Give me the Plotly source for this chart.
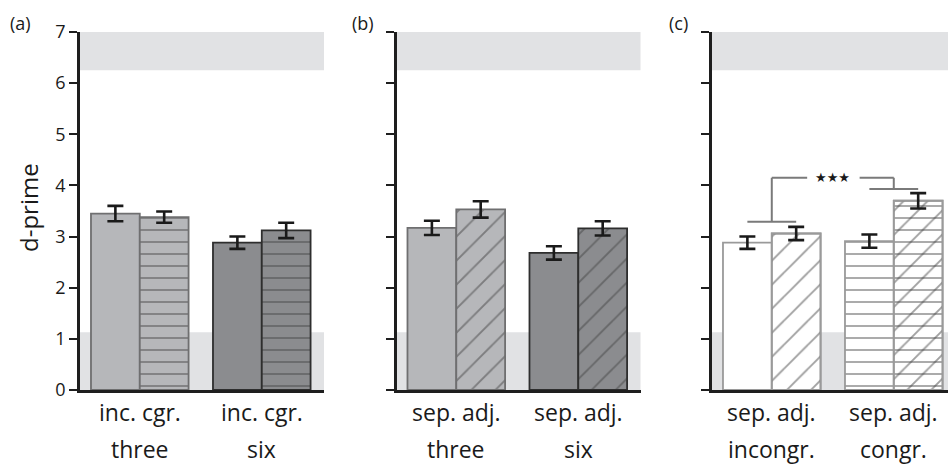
import plotly.graph_objects as go

# ---------------- data ----------------
groups = [0, 1]
labels_a = [["inc. cgr.", "three"], ["inc. cgr.", "six"]]
labels_b = [["sep. adj.", "three"], ["sep. adj.", "six"]]
labels_c = [["sep. adj.", "incongr."], ["sep. adj.", "congr."]]

a_left = [3.45, 2.88]
a_left_err = [0.15, 0.12]
a_right = [3.38, 3.12]
a_right_err = [0.11, 0.15]

b_left = [3.17, 2.68]
b_left_err = [0.14, 0.13]
b_right = [3.53, 3.16]
b_right_err = [0.16, 0.14]

c_left = [2.88, 2.91]
c_left_err = [0.12, 0.13]
c_right = [3.06, 3.70]
c_right_err = [0.13, 0.15]

y_ticks = [0, 1, 2, 3, 4, 5, 6, 7]
band_low = [0, 1.13]
band_high = [6.25, 7]

# ---------------- style ----------------
FONT = "Open Sans"
TXT = "#1a1a1a"
LIGHT = "#b6b7ba"
DARK = "#8b8c8f"
LIGHT_LINE = "#6f6f70"
DARK_LINE = "#2e2e2e"
C_LINE = "#9a9a9a"
BAND = "#e1e2e4"
AXIS = "#1e1e1e"

W, H = 948, 464
ML, MT, MB = 0, 32, 74
PH = H - MT - MB
BW = 0.4

doms = [(80 / W, 324 / W), (396.5 / W, 640.5 / W), (712 / W, 1.0)]
xranges = [[-0.49, 1.51], [-0.49, 1.51], [-0.49, -0.49 + 236 / 122]]

fig = go.Figure()


def add_bars(k, y, err, colors, lines, shapes, fgs, offset, show_err=True, bg=None):
    xa = "x" if k == 0 else f"x{k+1}"
    ya = "y" if k == 0 else f"y{k+1}"
    pattern = dict(shape=shapes, fgcolor=fgs,
                   size=[17 if s == "/" else 12 for s in shapes],
                   solidity=[0.11 if s == "/" else 0.15 for s in shapes])
    if bg is not None:
        pattern["bgcolor"] = bg
    fig.add_trace(go.Bar(
        x=groups, y=y, xaxis=xa, yaxis=ya, width=BW, offset=offset,
        marker=dict(color=colors, line=dict(color=lines, width=1.8), pattern=pattern),
        error_y=dict(type="data", array=err, visible=show_err,
                     color=TXT, thickness=2.6, width=8),
        showlegend=False, hoverinfo="skip",
    ))


# panel (a)
add_bars(0, a_left, a_left_err, [LIGHT, DARK], [LIGHT_LINE, DARK_LINE], ["", ""],
         [LIGHT_LINE, DARK_LINE], -BW)
add_bars(0, a_right, a_right_err, [LIGHT, DARK], [LIGHT_LINE, DARK_LINE], ["-", "-"],
         [LIGHT_LINE, DARK_LINE], 0)
# panel (b)
add_bars(1, b_left, b_left_err, [LIGHT, DARK], [LIGHT_LINE, DARK_LINE], ["", ""],
         [LIGHT_LINE, DARK_LINE], -BW)
add_bars(1, b_right, b_right_err, [LIGHT, DARK], [LIGHT_LINE, DARK_LINE], ["/", "/"],
         [LIGHT_LINE, DARK_LINE], 0)
# panel (c)
add_bars(2, c_left, c_left_err, ["white", "white"], [C_LINE, C_LINE], ["", "-"],
         [C_LINE, C_LINE], -BW)
add_bars(2, c_right, c_right_err, ["white", "white"], [C_LINE, C_LINE], ["", "-"],
         [C_LINE, C_LINE], 0, show_err=False)
add_bars(2, c_right, c_right_err, ["rgba(0,0,0,0)", "rgba(0,0,0,0)"], [C_LINE, C_LINE],
         ["/", "/"], [C_LINE, C_LINE], 0, bg="rgba(0,0,0,0)")

shapes = []
annotations = []
all_labels = [labels_a, labels_b, labels_c]
panel_names = ["(a)", "(b)", "(c)"]
panel_label_x = [20, 363, 678]


def py(px):
    """pixel row -> paper y"""
    return (H - MB - px) / PH


for k in range(3):
    xa = "x" if k == 0 else f"x{k+1}"
    ya = "y" if k == 0 else f"y{k+1}"
    for band in (band_low, band_high):
        shapes.append(dict(type="rect", xref=f"{xa} domain", yref=ya, x0=0, x1=1,
                           y0=band[0], y1=band[1], fillcolor=BAND, line=dict(width=0),
                           layer="below"))
    for g, lab in zip(groups, all_labels[k]):
        annotations.append(dict(x=g, xref=xa, xanchor="center", y=py(412), yref="paper",
                                yanchor="middle", text=lab[0], showarrow=False,
                                font=dict(family=FONT, size=23, color=TXT)))
        annotations.append(dict(x=g, xref=xa, xanchor="center", y=py(449), yref="paper",
                                yanchor="middle", text=lab[1], showarrow=False,
                                font=dict(family=FONT, size=23, color=TXT)))
    annotations.append(dict(x=panel_label_x[k] / W, xref="paper", xanchor="center",
                            y=py(23), yref="paper", yanchor="middle", text=panel_names[k],
                            showarrow=False, font=dict(family=FONT, size=18, color=TXT)))

# significance bracket in panel (c), derived from bar data
left_top = max(c_left[0] + c_left_err[0], c_right[0] + c_right_err[0])
right_top = max(c_left[1] + c_left_err[1], c_right[1] + c_right_err[1])
yl = left_top + 0.10
yr = right_top + 0.08
ytop = right_top + 0.30
GRAY = "#7a7a7a"
for x0, x1, y0, y1 in [
    (groups[0] - 0.2, groups[0] + 0.2, yl, yl),
    (groups[1] - 0.2, groups[1] + 0.2, yr, yr),
    (groups[0], groups[0], yl, ytop),
    (groups[1], groups[1], yr, ytop),
    (groups[0], groups[0] + 0.29, ytop, ytop),
    (groups[1] - 0.28, groups[1], ytop, ytop),
]:
    shapes.append(dict(type="line", xref="x3", yref="y3", x0=x0, x1=x1, y0=y0, y1=y1,
                       line=dict(color=GRAY, width=2)))
annotations.append(dict(x=0.5, xref="x3", xanchor="center", y=ytop, yref="y3",
                        text="★★★", showarrow=False,
                        font=dict(family="DejaVu Sans", size=13, color=TXT),
                        yanchor="middle"))

# y-axis title
annotations.append(dict(x=28 / W, xref="paper", xanchor="center", y=py(208), yref="paper",
                        yanchor="middle", text="d-prime", textangle=-90, showarrow=False,
                        font=dict(family=FONT, size=24, color=TXT)))

layout = dict(
    width=W, height=H, margin=dict(l=ML, r=0, t=MT, b=MB),
    paper_bgcolor="white", plot_bgcolor="rgba(0,0,0,0)",
    barmode="overlay", shapes=shapes, annotations=annotations,
    font=dict(family=FONT, color=TXT),
)
for k in range(3):
    xs = "xaxis" if k == 0 else f"xaxis{k+1}"
    ys = "yaxis" if k == 0 else f"yaxis{k+1}"
    ya = "y" if k == 0 else f"y{k+1}"
    xa = "x" if k == 0 else f"x{k+1}"
    layout[xs] = dict(domain=list(doms[k]), range=xranges[k], anchor=ya,
                      showgrid=False, zeroline=False, showline=True, linecolor=AXIS,
                      linewidth=2.5, showticklabels=False, ticks="", fixedrange=True)
    layout[ys] = dict(domain=[0, 1], range=[0, 7], anchor=xa, showgrid=False,
                      zeroline=False, showline=True, linecolor=AXIS, linewidth=2.5,
                      ticks="outside", ticklen=8, tickwidth=2.2, tickcolor=AXIS,
                      tickvals=y_ticks, showticklabels=(k == 0), fixedrange=True,
                      tickfont=dict(family=FONT, size=18, color=TXT))
fig.update_layout(**layout)
fig.write_html("out.html", config={"displayModeBar": False},
               post_script="document.body.style.margin='0px';")
